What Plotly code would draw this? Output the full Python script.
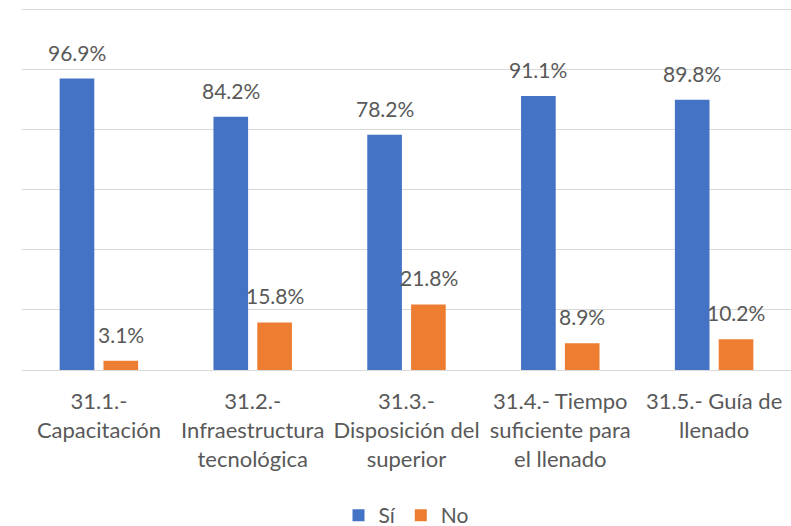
import plotly.graph_objects as go

categories = [
    "31.1.-<br>Capacitación",
    "31.2.-<br>Infraestructura<br>tecnológica",
    "31.3.-<br>Disposición del<br>superior",
    "31.4.- Tiempo<br>suficiente para<br>el llenado",
    "31.5.- Guía de<br>llenado",
]
si_values = [96.9, 84.2, 78.2, 91.1, 89.8]
no_values = [3.1, 15.8, 21.8, 8.9, 10.2]
series_names = ["Sí", "No"]
colors = ["#4472C4", "#ED7D31"]

FONT = "Lato"
TXT = "#595959"

fig = go.Figure()
for name, vals, col in zip(series_names, [si_values, no_values], colors):
    fig.add_trace(go.Bar(x=categories, y=vals, name=name, marker_color=col,
                         marker_line_width=0))

annotations = []
for shift, vals in zip([-22, 22], [si_values, no_values]):
    for c, v in zip(categories, vals):
        annotations.append(dict(x=c, y=v, text=f"{v:.1f}%", showarrow=False,
                                xref="x", yref="y", xshift=shift, yshift=12,
                                yanchor="bottom", xanchor="center",
                                font=dict(family=FONT, size=21, color=TXT)))

fig.update_layout(
    width=791, height=526,
    margin=dict(l=22, r=0, t=6, b=156, autoexpand=False),
    paper_bgcolor="white", plot_bgcolor="white",
    barmode="group", bargap=0.43, bargroupgap=0.21,
    font=dict(family=FONT, size=21, color=TXT),
    showlegend=True,
    legend=dict(orientation="h", x=0.5, xanchor="center", y=-0.40, yanchor="middle",
                font=dict(family=FONT, size=21, color=TXT), itemwidth=30,
                traceorder="normal"),
    annotations=annotations,
)
fig.update_xaxes(showline=False, showgrid=False, ticks="outside", ticklen=12,
                 tickcolor="rgba(0,0,0,0)", tickfont=dict(family=FONT, size=22, color=TXT),
                 tickangle=0, automargin=False)
fig.update_yaxes(range=[0, 121], tickvals=[0, 20, 40, 60, 80, 100, 120],
                 showticklabels=False, showgrid=True,
                 gridcolor="#D9D9D9", gridwidth=1.3, zeroline=True,
                 zerolinecolor="#D9D9D9", zerolinewidth=1.3, showline=False,
                 automargin=False)

fig.write_html("out.html", config={"displayModeBar": False},
               post_script="document.body.style.margin='0';")
